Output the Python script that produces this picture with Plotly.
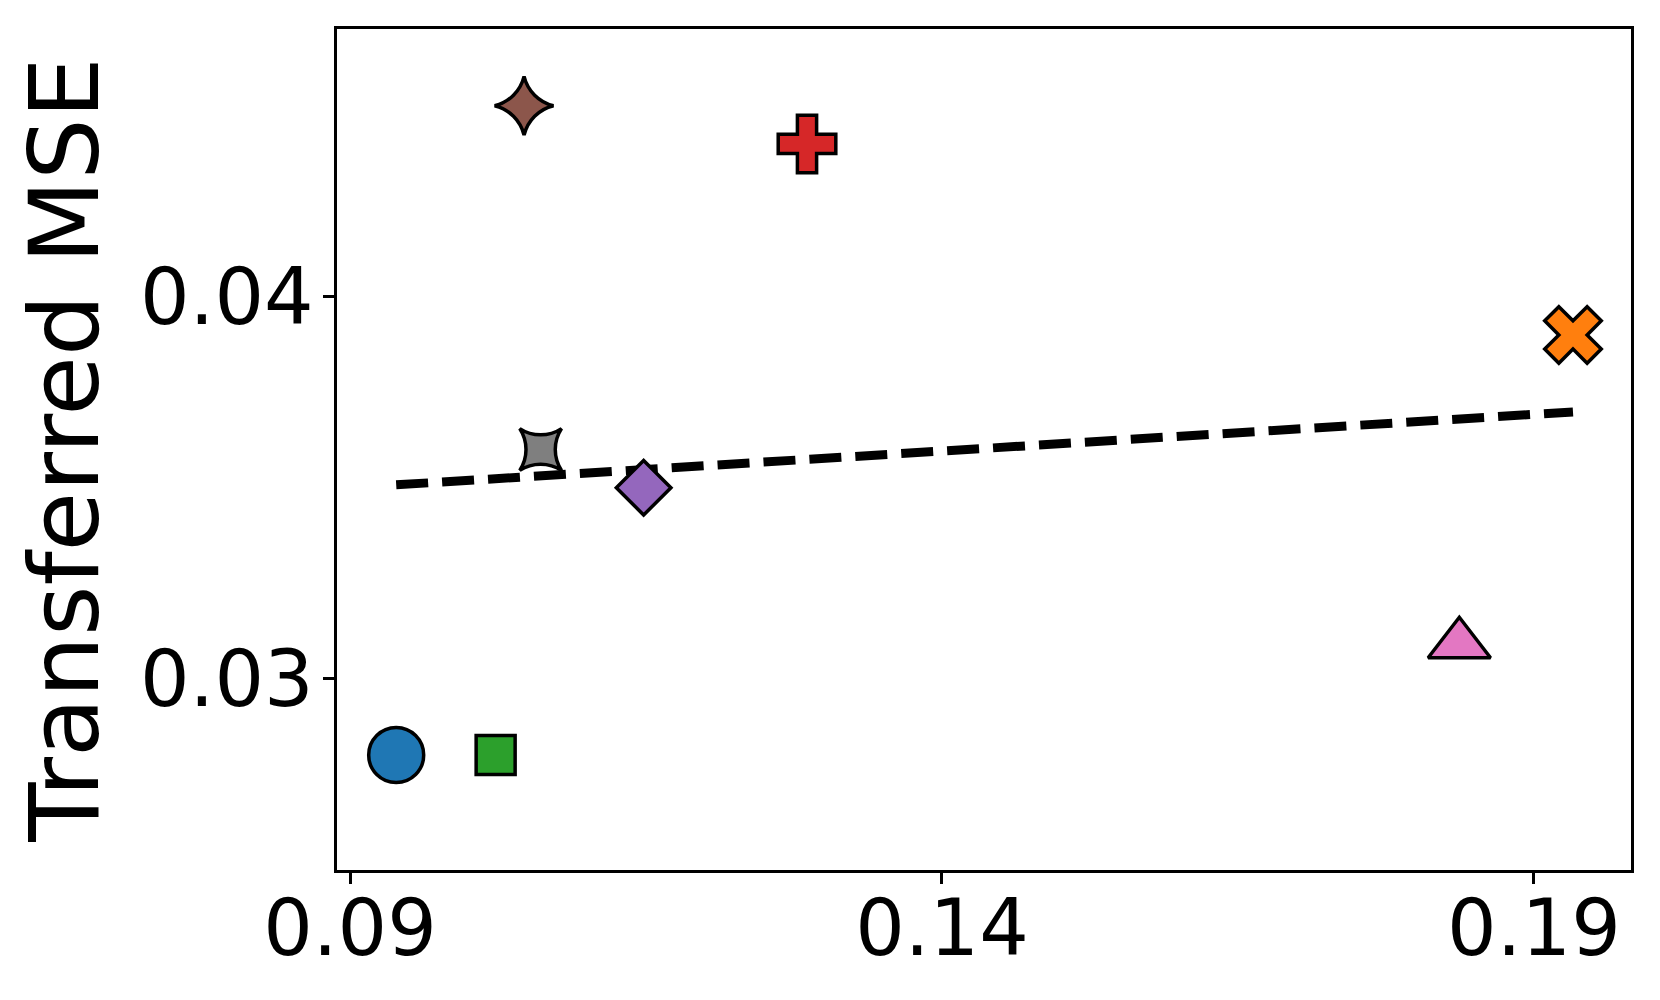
import numpy as np
import plotly.graph_objects as go

# values
x_vals = [0.0939, 0.1023, 0.1047, 0.1061, 0.1148, 0.1286, 0.1837, 0.1933]
y_vals = [0.0280, 0.0280, 0.0450, 0.0360, 0.0350, 0.0440, 0.0309, 0.0390]

x_ticks = [0.09, 0.14, 0.19]
y_ticks = [0.03, 0.04]

# one marker per point (matplotlib tab10 colours)
colors = ["#1f77b4", "#2ca02c", "#8c564b", "#7f7f7f",
          "#9467bd", "#d62728", "#e377c2", "#ff7f0e"]
symbols = ["circle", "square", "star-diamond", "star-square",
           "diamond", "cross", "triangle-up", "x"]
sizes = [55, 39, 42, 38, 42, 48, 54, 50]

fig = go.Figure()

# dashed regression line
slope, icpt = np.polyfit(x_vals, y_vals, 1)
x_line = [min(x_vals), max(x_vals)]
fig.add_trace(go.Scatter(
    x=x_line,
    y=[slope * v + icpt for v in x_line],
    mode="lines",
    line=dict(color="black", width=9, dash="32px,14px"),
    showlegend=False,
    hoverinfo="skip",
))

for xv, yv, c, s, sz in zip(x_vals, y_vals, colors, symbols, sizes):
    fig.add_trace(go.Scatter(
        x=[xv], y=[yv],
        mode="markers",
        marker=dict(symbol=s, size=sz, color=c,
                    line=dict(color="black", width=3.5)),
        showlegend=False,
    ))

# page body adds an 8px offset, margins compensate for it
fig.update_layout(
    width=1660,
    height=1000,
    margin=dict(l=329, r=37, t=21, b=138),
    paper_bgcolor="white",
    plot_bgcolor="white",
    font=dict(family="DejaVu Sans", color="black"),
    xaxis=dict(
        range=[0.0889, 0.1982],
        tickvals=x_ticks,
        ticktext=["0.09", "0.14", "0.19"],
        tickfont=dict(size=78),
        ticks="outside", ticklen=11, tickwidth=2.5, tickcolor="black",
        ticklabelstandoff=-22,
        showline=True, linecolor="black", linewidth=2.5, mirror=True,
        showgrid=False, zeroline=False, automargin=False,
    ),
    yaxis=dict(
        range=[0.02499, 0.04701],
        tickvals=y_ticks,
        ticktext=["0.03", "0.04"],
        tickfont=dict(size=78),
        ticks="outside", ticklen=11, tickwidth=2.5, tickcolor="black",
        ticklabelstandoff=-6,
        showline=True, linecolor="black", linewidth=2.5, mirror=True,
        showgrid=False, zeroline=False, automargin=False,
        title=dict(text="Transferred MSE", font=dict(size=97), standoff=25),
    ),
)

fig.write_html("out.html")
